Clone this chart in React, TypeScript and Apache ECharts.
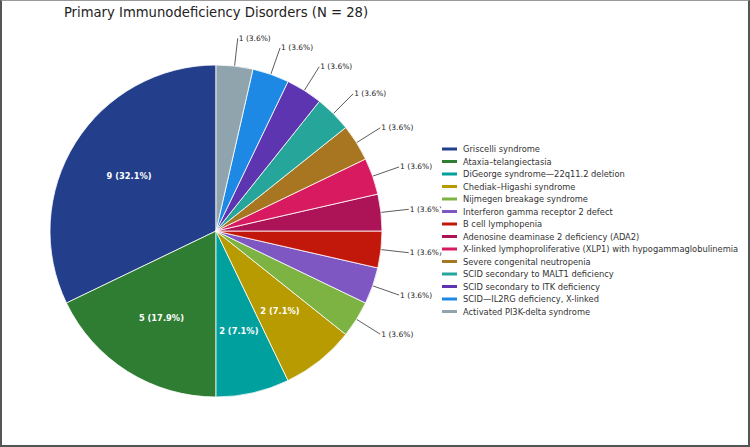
import React, { useEffect, useRef } from "react";
import * as echarts from "echarts";

const titleText = "Primary Immunodeficiency Disorders (N = 28)";
const categories = [
  "Griscelli syndrome",
  "Ataxia–telangiectasia",
  "DiGeorge syndrome—22q11.2 deletion",
  "Chediak–Higashi syndrome",
  "Nijmegen breakage syndrome",
  "Interferon gamma receptor 2 defect",
  "B cell lymphopenia",
  "Adenosine deaminase 2 deficiency (ADA2)",
  "X-linked lymphoproliferative (XLP1) with hypogammaglobulinemia",
  "Severe congenital neutropenia",
  "SCID secondary to MALT1 deficiency",
  "SCID secondary to ITK deficiency",
  "SCID—IL2RG deficiency, X-linked",
  "Activated PI3K-delta syndrome",
];
const counts = [9, 5, 2, 2, 1, 1, 1, 1, 1, 1, 1, 1, 1, 1];
const colors = [
  "#233E8B",
  "#2E7D32",
  "#00A09E",
  "#B79B00",
  "#7CB342",
  "#7E57C2",
  "#C2180B",
  "#AD1457",
  "#D81B60",
  "#A87620",
  "#26A69A",
  "#5E35B1",
  "#1E88E5",
  "#90A4AE",
];

const FONT = "DejaVu Sans";

export default function App() {
  const ref = useRef<HTMLDivElement>(null);
  useEffect(() => {
    if (!ref.current) return;
    const chart = echarts.init(ref.current, undefined, { renderer: "svg" });
    const total = counts.reduce((a, b) => a + b, 0);
    const fmt = (v: number) => `${v} (${((v / total) * 100).toFixed(1)}%)`;
    const center = [216, 231];
    const R = 166;

    const outerData = categories.map((name, i) => ({
      name,
      value: counts[i],
      itemStyle: { color: colors[i] },
      label: { show: counts[i] === 1 },
      labelLine: { show: counts[i] === 1 },
    }));
    const innerData = categories.map((name, i) => ({
      name: name + " (label)",
      value: counts[i],
      itemStyle: { color: "rgba(0,0,0,0)", borderWidth: 0 },
      label: { show: counts[i] > 1 },
    }));

    chart.setOption({
      animation: false,
      backgroundColor: "transparent",
      title: {
        text: titleText,
        left: 216,
        top: 6,
        padding: 0,
        textAlign: "center",
        textStyle: { fontFamily: FONT, fontSize: 13.2, fontWeight: "normal", color: "#222" },
      },
      legend: {
        orient: "vertical",
        left: 440,
        top: 144,
        padding: 0,
        data: categories,
        icon: "rect",
        itemWidth: 17,
        itemHeight: 5,
        itemGap: 2.5,
        selectedMode: false,
        textStyle: { fontFamily: FONT, fontSize: 8.3, color: "#333", lineHeight: 10 },
      },
      series: [
        {
          type: "pie",
          center,
          radius: [0, R],
          startAngle: 90,
          clockwise: false,
          avoidLabelOverlap: false,
          silent: true,
          itemStyle: { borderColor: "#fff", borderWidth: 0.8 },
          label: {
            position: "outside",
            formatter: (p: any) => fmt(p.value),
            fontFamily: FONT,
            fontSize: 7.5,
            color: "#222",
            distanceToLabelLine: 1,
          },
          labelLine: {
            length: 28,
            length2: 0,
            smooth: false,
            lineStyle: { color: "#333", width: 0.8 },
          },
          data: outerData,
        },
        {
          type: "pie",
          center,
          radius: [R * 0.2, R],
          startAngle: 90,
          clockwise: false,
          avoidLabelOverlap: false,
          silent: true,
          z: 5,
          label: {
            position: "inside",
            formatter: (p: any) => fmt(p.value),
            fontFamily: FONT,
            fontSize: 8.3,
            fontWeight: "bold",
            color: "#fff",
          },
          labelLine: { show: false },
          data: innerData,
        },
      ],
    });
    return () => chart.dispose();
  }, []);

  return (
    <div style={{ position: "absolute", left: 0, top: 0, width: 750, height: 447, background: "#fff" }}>
      <div ref={ref} style={{ position: "absolute", left: 0, top: 0, width: 750, height: 447 }} />
      <div
        style={{
          position: "absolute",
          left: 0,
          top: 0,
          width: 750,
          height: 447,
          boxSizing: "border-box",
          borderLeft: "2px solid #555",
          borderRight: "2px solid #555",
          borderBottom: "2px solid #555",
          borderTop: "1px solid #999",
          pointerEvents: "none",
        }}
      />
    </div>
  );
}
